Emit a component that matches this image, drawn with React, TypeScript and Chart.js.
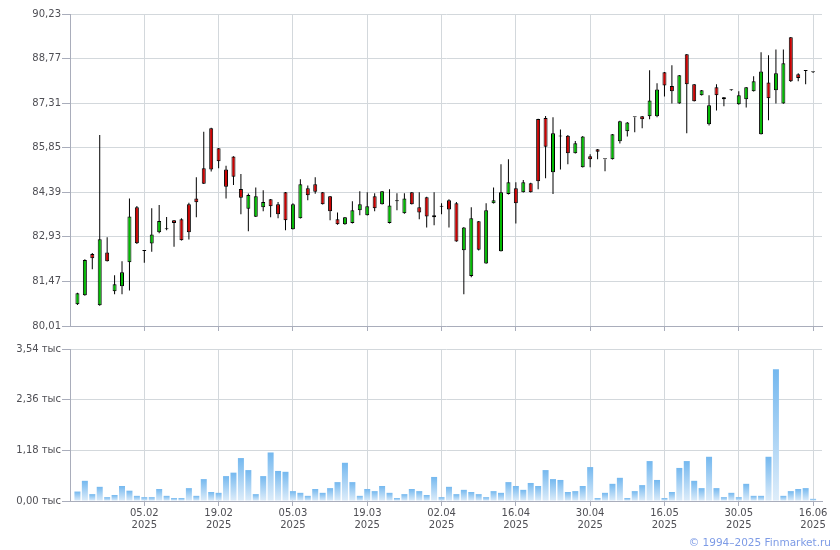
import React, { useEffect, useRef } from 'react';
import { Chart, registerables } from 'chart.js';

Chart.register(...registerables);

const tickIdx = [9, 19, 29, 39, 49, 59, 69, 79, 89, 99];
const tickDates = ['05.02', '19.02', '05.03', '19.03', '02.04', '16.04', '30.04', '16.05', '30.05', '16.06'];
const tickYear = '2025';
const priceTicks = [80.01, 81.47, 82.93, 84.39, 85.85, 87.31, 88.77, 90.23];
const volTicks = [0, 1.18, 2.36, 3.54];

const openP = [
  80.72, 81.02, 82.37, 80.69, 82.42, 81.15, 81.31, 82.10, 83.90, 82.47,
  82.71, 83.08, 83.18, 83.47, 83.51, 84.00, 84.19, 85.18, 86.49, 85.83,
  85.14, 85.56, 84.50, 83.85, 83.59, 83.90, 84.16, 84.00, 84.39, 83.18,
  83.54, 84.52, 84.65, 84.39, 84.26, 83.51, 83.34, 83.38, 83.80, 83.64,
  84.26, 84.00, 83.38, 84.10, 83.70, 84.39, 83.90, 84.23, 83.64, 83.92,
  84.13, 84.03, 82.49, 81.65, 83.44, 82.06, 84.03, 82.46, 84.33, 84.52,
  84.39, 84.69, 86.79, 86.82, 85.05, 86.22, 86.24, 85.67, 85.21, 85.57,
  85.80, 85.47, 85.47, 86.06, 86.39, 86.85, 86.88, 86.88, 86.88, 88.32,
  87.87, 87.30, 88.91, 87.93, 87.57, 86.62, 87.83, 87.50, 87.73, 87.27,
  87.44, 87.70, 86.29, 87.99, 87.73, 87.30, 89.47, 88.26, 88.36, 88.32,
];
const highP = [
  81.10, 82.20, 82.40, 86.27, 82.92, 81.67, 82.13, 84.19, 83.94, 82.48,
  83.87, 83.97, 83.58, 83.48, 83.54, 84.05, 84.88, 86.37, 86.50, 85.84,
  85.26, 85.57, 84.99, 84.35, 84.55, 84.46, 84.17, 84.07, 84.40, 84.03,
  84.82, 84.61, 84.88, 84.40, 84.27, 83.73, 83.58, 84.10, 84.42, 84.39,
  84.36, 84.43, 84.49, 84.36, 84.36, 84.40, 84.39, 84.24, 84.39, 84.03,
  84.16, 84.07, 83.25, 83.90, 83.45, 84.03, 84.55, 85.31, 85.47, 84.72,
  84.79, 84.70, 86.80, 86.89, 86.85, 86.45, 86.27, 86.07, 86.23, 85.64,
  85.81, 85.47, 86.30, 86.73, 86.69, 86.85, 86.89, 88.39, 87.96, 88.33,
  88.55, 88.23, 88.92, 87.94, 87.74, 87.57, 87.93, 87.51, 87.76, 87.70,
  87.84, 88.19, 88.98, 88.88, 89.07, 89.07, 89.48, 88.29, 88.37, 88.33,
];
const lowP = [
  80.70, 81.00, 81.87, 80.67, 82.12, 81.05, 81.05, 81.17, 82.70, 82.08,
  82.44, 83.05, 83.15, 82.61, 82.81, 82.84, 83.57, 84.66, 85.07, 85.18,
  84.19, 84.63, 83.67, 83.11, 83.58, 83.77, 83.57, 83.54, 83.15, 83.17,
  83.53, 84.13, 84.34, 83.99, 83.47, 83.33, 83.33, 83.37, 83.64, 83.63,
  83.77, 83.99, 83.37, 83.80, 83.69, 83.99, 83.51, 83.24, 83.31, 83.67,
  83.24, 82.77, 81.05, 81.61, 82.48, 82.05, 84.02, 82.45, 84.32, 83.37,
  84.38, 84.38, 84.49, 84.85, 84.33, 85.14, 85.31, 85.66, 85.20, 85.21,
  85.47, 85.08, 85.46, 85.99, 86.22, 86.36, 86.49, 86.78, 86.85, 87.53,
  87.30, 87.29, 86.32, 87.36, 87.56, 86.58, 87.07, 87.21, 87.72, 87.26,
  87.17, 87.69, 86.28, 86.75, 87.30, 87.29, 88.00, 88.03, 87.93, 88.30,
];
const closeP = [
  81.08, 82.17, 82.23, 82.85, 82.13, 81.38, 81.77, 83.60, 82.72, 82.47,
  83.01, 83.45, 83.18, 83.38, 82.82, 83.08, 84.06, 84.67, 85.14, 85.41,
  84.57, 84.90, 84.21, 84.30, 84.26, 84.07, 83.93, 83.67, 83.47, 84.00,
  84.65, 84.29, 84.41, 84.00, 83.77, 83.34, 83.57, 83.80, 84.00, 83.93,
  83.87, 84.42, 83.96, 84.10, 84.19, 84.00, 83.73, 83.60, 83.57, 83.92,
  83.83, 82.78, 83.24, 83.54, 82.51, 83.80, 84.13, 84.39, 84.72, 84.03,
  84.72, 84.39, 84.75, 85.88, 86.32, 86.22, 85.67, 86.00, 86.22, 85.47,
  85.72, 85.47, 86.29, 86.72, 86.68, 86.85, 86.78, 87.40, 87.76, 87.89,
  87.70, 88.22, 87.93, 87.37, 87.73, 87.24, 87.57, 87.44, 87.73, 87.57,
  87.83, 88.03, 88.35, 87.47, 88.29, 88.62, 88.03, 88.13, 88.36, 88.32,
];
const volumeK = [
  0.22, 0.47, 0.16, 0.33, 0.09, 0.14, 0.35, 0.24, 0.12, 0.09,
  0.09, 0.28, 0.12, 0.07, 0.07, 0.30, 0.12, 0.51, 0.21, 0.19,
  0.58, 0.66, 1.00, 0.72, 0.16, 0.58, 1.13, 0.70, 0.68, 0.23,
  0.19, 0.12, 0.28, 0.19, 0.30, 0.44, 0.89, 0.44, 0.12, 0.28,
  0.23, 0.35, 0.19, 0.07, 0.16, 0.28, 0.23, 0.14, 0.56, 0.09,
  0.33, 0.16, 0.26, 0.21, 0.16, 0.09, 0.23, 0.19, 0.44, 0.35,
  0.26, 0.42, 0.35, 0.72, 0.51, 0.49, 0.21, 0.23, 0.35, 0.79,
  0.07, 0.19, 0.40, 0.54, 0.07, 0.23, 0.37, 0.93, 0.49, 0.07,
  0.21, 0.77, 0.93, 0.47, 0.30, 1.03, 0.30, 0.09, 0.19, 0.09,
  0.40, 0.12, 0.12, 1.03, 3.07, 0.12, 0.23, 0.28, 0.30, 0.05,
];

const GRID = '#d3d8dc';
const AXIS = '#a9adbb';
const TEXT = '#4f4f55';
const UP = '#00bb00';
const DOWN = '#cc0000';
const FONT = { family: 'DejaVu Sans', size: 10 };
const X_MIN = -1;
const X_MAX = 100.2;

const fmt = (v: number) => v.toFixed(2).replace('.', ',');

export default function App() {
  const priceRef = useRef<HTMLCanvasElement>(null);
  const volRef = useRef<HTMLCanvasElement>(null);

  useEffect(() => {
    const idx = openP.map((_, i) => i);
    const bodyColors = idx.map((i) =>
      closeP[i] > openP[i] ? UP : closeP[i] < openP[i] ? DOWN : '#000'
    );

    const xCommon = (showLabels: boolean, height: number) => ({
      type: 'linear' as const,
      min: X_MIN,
      max: X_MAX,
      offset: false,
      afterBuildTicks: (s: any) => {
        s.ticks = tickIdx.map((v) => ({ value: v }));
      },
      afterFit: (s: any) => {
        s.height = height;
      },
      ticks: {
        display: showLabels,
        autoSkip: false,
        maxRotation: 0,
        padding: 1,
        color: TEXT,
        font: FONT,
        callback: (v: any) => {
          const k = tickIdx.indexOf(Number(v));
          return k >= 0 ? [tickDates[k], tickYear] : '';
        },
      },
      grid: { color: GRID, tickColor: AXIS, tickLength: 5, offset: false, drawTicks: true },
      border: { color: AXIS, width: 1 },
    });

    const priceChart = new Chart(priceRef.current!, {
      type: 'bar',
      data: {
        datasets: [
          {
            label: 'body',
            data: idx.map((i) => ({ x: i, y: [openP[i], closeP[i]] })) as any,
            backgroundColor: bodyColors,
            borderColor: '#000',
            borderWidth: 1,
            borderSkipped: false,
            barThickness: 4,
            minBarLength: 1,
            grouped: false,
            inflateAmount: 0,
            order: 0,
          } as any,
          {
            label: 'wick',
            data: idx.map((i) => ({ x: i, y: [lowP[i], highP[i]] })) as any,
            backgroundColor: '#000',
            borderWidth: 0,
            barThickness: 1,
            grouped: false,
            inflateAmount: 0,
            order: 1,
          } as any,
        ],
      },
      options: {
        animation: false,
        responsive: false,
        devicePixelRatio: 1,
        layout: { padding: { left: 0, right: 18, top: 14, bottom: 0 } },
        plugins: { legend: { display: false }, tooltip: { enabled: false } },
        scales: {
          x: xCommon(false, 14) as any,
          y: {
            type: 'linear',
            min: 80.01,
            max: 90.23,
            afterBuildTicks: (s: any) => {
              s.ticks = priceTicks.map((v) => ({ value: v }));
            },
            afterFit: (s: any) => {
              s.width = 70;
            },
            ticks: {
              padding: 1,
              color: TEXT,
              font: FONT,
              callback: (v: any) => fmt(Number(v)),
            },
            grid: { color: GRID, tickColor: AXIS, tickLength: 8 },
            border: { color: AXIS, width: 1 },
          },
        },
      },
    });

    const volChart = new Chart(volRef.current!, {
      type: 'bar',
      data: {
        datasets: [
          {
            label: 'volume',
            data: volumeK.map((v, i) => ({ x: i, y: v })) as any,
            backgroundColor: (ctx: any) => {
              const chart = ctx.chart;
              const ys = chart.scales && chart.scales.y;
              if (!ys || ctx.type !== 'data' || ctx.dataIndex == null) return '#9fcdf3';
              const v = volumeK[ctx.dataIndex];
              const top = ys.getPixelForValue(v);
              const bot = ys.getPixelForValue(0);
              if (!isFinite(top) || !isFinite(bot) || bot - top < 1) return '#cfe5f8';
              const g = chart.ctx.createLinearGradient(0, top, 0, bot);
              g.addColorStop(0, '#74b8ef');
              g.addColorStop(1, '#deedfa');
              return g;
            },
            borderWidth: 0,
            barThickness: 6,
            grouped: false,
            inflateAmount: 0,
          } as any,
        ],
      },
      options: {
        animation: false,
        responsive: false,
        devicePixelRatio: 1,
        layout: { padding: { left: 0, right: 18, top: 9, bottom: 0 } },
        plugins: { legend: { display: false }, tooltip: { enabled: false } },
        scales: {
          x: xCommon(true, 49) as any,
          y: {
            type: 'linear',
            min: 0,
            max: 3.54,
            afterBuildTicks: (s: any) => {
              s.ticks = volTicks.map((v) => ({ value: v }));
            },
            afterFit: (s: any) => {
              s.width = 70;
            },
            ticks: {
              padding: 1,
              color: TEXT,
              font: FONT,
              callback: (v: any) => fmt(Number(v)) + ' тыс',
            },
            grid: { color: GRID, tickColor: AXIS, tickLength: 8 },
            border: { color: AXIS, width: 1 },
          },
        },
      },
    });

    return () => {
      priceChart.destroy();
      volChart.destroy();
    };
  }, []);

  return (
    <div
      style={{
        position: 'fixed',
        left: 0,
        top: 0,
        width: 840,
        height: 550,
        background: '#fff',
        overflow: 'hidden',
      }}
    >
      <canvas
        ref={priceRef}
        width={840}
        height={340}
        style={{ position: 'absolute', left: 0, top: 0, width: 840, height: 340 }}
      />
      <canvas
        ref={volRef}
        width={840}
        height={210}
        style={{ position: 'absolute', left: 0, top: 340, width: 840, height: 210 }}
      />
      <div
        style={{
          position: 'absolute',
          right: 9,
          top: 536,
          font: '10.5px "DejaVu Sans"',
          color: '#7d9be6',
          whiteSpace: 'nowrap',
        }}
      >
        © 1994–2025 Finmarket.ru
      </div>
    </div>
  );
}
